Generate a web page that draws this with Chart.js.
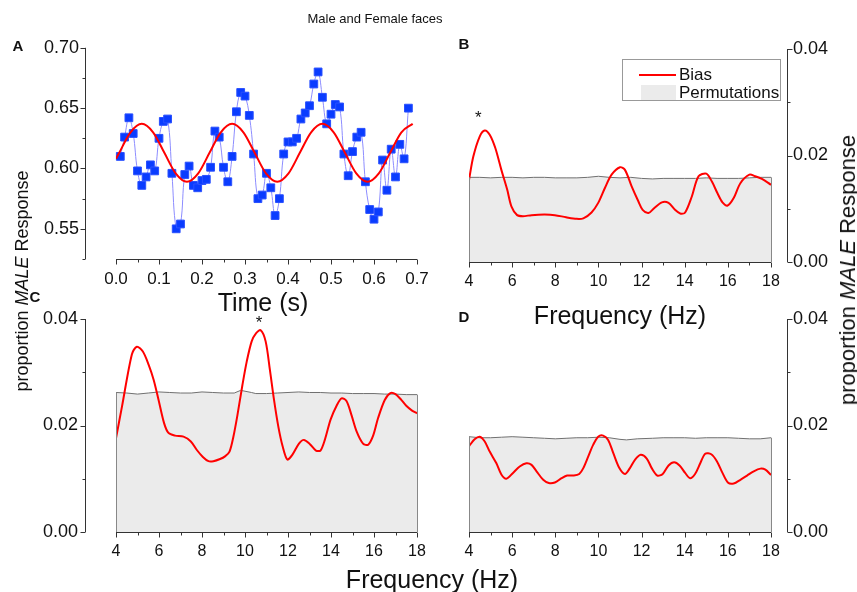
<!DOCTYPE html>
<html>
<head>
<meta charset="utf-8">
<script src="https://cdn.jsdelivr.net/npm/chart.js@4.4.1/dist/chart.umd.min.js"></script>
<style>
  html, body { margin: 0; padding: 0; background: #fff; }
  #wrap { position: relative; width: 857px; height: 592px; overflow: hidden; font-family: "Liberation Sans", Arial, sans-serif; color: #111; }
  canvas { position: absolute; left: 0; top: 0; }
  .t { position: absolute; white-space: nowrap; line-height: 1; }
  .lbl { font-weight: bold; font-size: 15px; transform: translate(-50%, -50%); }
  .ctr { transform: translate(-50%, -50%); }
  .rot { transform: translate(-50%, -50%) rotate(-90deg); }
  #legend { position: absolute; left: 622px; top: 59px; width: 157px; height: 40px; border: 1px solid #999; background: #fff; font-size: 17px; }
</style>
</head>
<body>
<div id="wrap">
  <canvas id="chartA" width="857" height="592"></canvas>
  <canvas id="chartB" width="857" height="592"></canvas>
  <canvas id="chartC" width="857" height="592"></canvas>
  <canvas id="chartD" width="857" height="592"></canvas>

  <div class="t ctr" style="left:375px; top:18px; font-size:13px;">Male and Female faces</div>
  <div class="t lbl" style="left:18px; top:45px;">A</div>
  <div class="t lbl" style="left:464px; top:43px;">B</div>
  <div class="t lbl" style="left:35px; top:296px;">C</div>
  <div class="t lbl" style="left:464px; top:316px;">D</div>

  <div class="t ctr" style="left:263px; top:302px; font-size:25px;">Time (s)</div>
  <div class="t ctr" style="left:620px; top:315px; font-size:25px;">Frequency (Hz)</div>
  <div class="t ctr" style="left:432px; top:579px; font-size:25px;">Frequency (Hz)</div>
  <div class="t rot" style="left:22px; top:281px; font-size:18px;">proportion <i>MALE</i> Response</div>
  <div class="t rot" style="left:848px; top:270px; font-size:22px;">proportion <i>MALE</i> Response</div>

  <div id="legend">
    <div style="position:absolute; left:16px; top:14px; width:37px; height:2px; background:#ff0000;"></div>
    <div class="t" style="left:56px; top:6px;">Bias</div>
    <div style="position:absolute; left:18px; top:25px; width:35px; height:15px; background:#ebebeb;"></div>
    <div class="t" style="left:56px; top:24px;">Permutations</div>
  </div>
</div>

<script>
// ---- Panel A : time course ----
const timeA = [0.01,0.02,0.03,0.04,0.05,0.06,0.07,0.08,0.09,0.10,0.11,0.12,0.13,0.14,0.15,0.16,0.17,
  0.18,0.19,0.20,0.21,0.22,0.23,0.24,0.25,0.26,0.27,0.28,0.29,0.30,0.31,0.32,0.33,0.34,0.35,0.36,
  0.37,0.38,0.39,0.40,0.41,0.42,0.43,0.44,0.45,0.46,0.47,0.48,0.49,0.50,0.51,0.52,0.53,0.54,0.55,
  0.56,0.57,0.58,0.59,0.60,0.61,0.62,0.63,0.64,0.65,0.66,0.67,0.68];
const respA = [0.610,0.626,0.642,0.629,0.598,0.586,0.593,0.603,0.598,0.625,0.639,0.641,0.596,0.550,
  0.554,0.595,0.602,0.586,0.584,0.590,0.591,0.601,0.631,0.626,0.601,0.589,0.610,0.647,0.663,0.660,
  0.644,0.612,0.575,0.578,0.596,0.584,0.561,0.575,0.612,0.622,0.622,0.625,0.641,0.646,0.652,0.670,
  0.680,0.659,0.637,0.645,0.653,0.651,0.612,0.594,0.614,0.626,0.630,0.589,0.566,0.558,0.564,0.607,
  0.582,0.616,0.593,0.620,0.608,0.650];
const fitTimeA = [0.000,0.0075,0.03375,0.060,0.08625,0.1125,0.13875,0.165,0.19125,0.2175,0.24375,
  0.270,0.29625,0.3225,0.34875,0.375,0.40125,0.4275,0.45375,0.480,0.50625,0.5325,0.55875,0.585,
  0.61125,0.6375,0.66375,0.690];
const fitA = [0.608,0.613,0.630,0.637,0.630,0.613,0.596,0.589,0.596,0.613,0.630,0.637,0.630,0.613,
  0.596,0.589,0.596,0.613,0.630,0.637,0.630,0.613,0.596,0.589,0.596,0.613,0.630,0.637];

// ---- Panel B ----
const freqBiasB = [4.0,4.2,4.5,4.73,4.96,5.22,5.5,5.77,5.97,6.23,6.5,6.9,7.5,7.98,8.5,8.99,9.3,9.68,
  9.99,10.3,10.61,11.0,11.23,11.54,11.85,12.05,12.32,12.58,12.94,13.25,13.55,13.79,14.02,14.33,
  14.64,15.0,15.26,15.52,15.75,15.99,16.27,16.58,17.0,17.27,17.58,18.0];
const biasB = [0.0154,0.0198,0.0236,0.0247,0.0239,0.0214,0.0173,0.0136,0.0104,0.0088,0.0086,0.0088,
  0.0089,0.0088,0.0084,0.0081,0.0082,0.0093,0.0111,0.0139,0.0164,0.0178,0.0173,0.0142,0.0114,
  0.0098,0.0092,0.0101,0.0112,0.0111,0.0098,0.0091,0.0093,0.0123,0.0161,0.0166,0.0151,0.0129,
  0.0112,0.0106,0.0120,0.0148,0.0164,0.0161,0.0156,0.0145];
const freqPermB = [4,4.5,5,5.5,6,6.5,7,7.5,8,8.5,9,9.5,10,10.5,11,11.5,12,12.5,13,13.5,14,14.5,15,
  15.5,16,16.5,17,17.5,18];
const permB = [0.0159,0.0159,0.0158,0.0159,0.0159,0.0158,0.0159,0.0159,0.0158,0.0158,0.0158,0.0159,
  0.0161,0.0159,0.0158,0.0159,0.0157,0.0156,0.0157,0.0157,0.0157,0.0157,0.0158,0.0157,0.0157,
  0.0157,0.0158,0.0159,0.0159];

// ---- Panel C ----
const freqBiasC = [4.0,4.28,4.74,4.97,5.25,5.52,5.75,5.98,6.24,6.44,6.75,7.14,7.48,7.76,8.04,8.3,8.53,
  8.84,9.07,9.28,9.46,9.65,9.88,10.08,10.31,10.51,10.73,10.96,11.16,11.35,11.55,11.75,11.97,12.2,
  12.51,12.74,13.02,13.3,13.51,13.72,13.98,14.26,14.49,14.72,14.95,15.19,15.49,15.73,15.96,16.19,
  16.5,16.76,17.0,17.27,17.5,17.77,18.0];
const biasC = [0.0176,0.0236,0.0334,0.0348,0.0339,0.0314,0.0286,0.0248,0.0204,0.0186,0.0181,0.0179,
  0.0170,0.0154,0.0141,0.0133,0.0133,0.0137,0.0142,0.0151,0.0179,0.0220,0.0276,0.0320,0.0358,
  0.0373,0.0379,0.0358,0.0304,0.0248,0.0198,0.0161,0.0136,0.0145,0.0166,0.0173,0.0165,0.0153,
  0.0153,0.0174,0.0211,0.0237,0.0251,0.0246,0.0220,0.0189,0.0166,0.0164,0.0181,0.0214,0.0248,
  0.0261,0.0259,0.0248,0.0237,0.0228,0.0223];
const freqPermC = [4,4.5,5,5.5,6,6.5,7,7.5,8,8.5,9,9.5,9.8,10.3,10.5,11,11.5,12,12.5,13,13.5,14,
  14.5,15,15.5,16,16.5,17,17.5,18];
const permC = [0.0262,0.0261,0.0259,0.0261,0.0263,0.0262,0.0261,0.0261,0.0263,0.0262,0.0261,0.0261,
  0.0266,0.0262,0.0260,0.0260,0.0261,0.0262,0.0263,0.0262,0.0262,0.0261,0.0261,0.0260,0.0260,
  0.0260,0.0259,0.0259,0.0258,0.0258];

// ---- Panel D ----
const freqBiasD = [4.0,4.26,4.5,4.73,4.96,5.27,5.5,5.73,6.04,6.35,6.66,6.9,7.13,7.44,7.7,7.98,8.29,
  8.55,8.86,9.11,9.3,9.53,9.76,9.99,10.22,10.45,10.69,10.97,11.23,11.46,11.7,11.96,12.24,12.47,
  12.73,12.98,13.25,13.51,13.76,14.02,14.25,14.48,14.72,14.95,15.23,15.49,15.75,16.0,16.27,16.58,
  16.89,17.2,17.51,17.74,18.0];
const biasD = [0.0161,0.0174,0.0179,0.0170,0.0151,0.0129,0.0108,0.0100,0.0111,0.0123,0.0129,0.0126,
  0.0114,0.0098,0.0092,0.0093,0.0101,0.0106,0.0106,0.0109,0.0120,0.0142,0.0164,0.0179,0.0181,
  0.0173,0.0148,0.0120,0.0109,0.0120,0.0136,0.0145,0.0138,0.0120,0.0106,0.0109,0.0125,0.0131,
  0.0125,0.0111,0.0101,0.0109,0.0129,0.0147,0.0146,0.0133,0.0111,0.0093,0.0091,0.0098,0.0106,
  0.0114,0.0119,0.0117,0.0107];
const freqPermD = [4,4.5,5,5.5,6,6.5,7,7.5,8,8.5,9,9.5,10,10.5,11,11.3,11.8,12.5,13,13.5,14,14.5,
  15,15.5,16,16.5,17,17.5,18];
const permD = [0.0179,0.0177,0.0177,0.0178,0.0179,0.0178,0.0177,0.0176,0.0175,0.0176,0.0177,0.0177,
  0.0178,0.0177,0.0174,0.0173,0.0175,0.0176,0.0177,0.0177,0.0177,0.0176,0.0177,0.0177,0.0177,
  0.0176,0.0175,0.0175,0.0177];

const W = 857, H = 592, XH = 40;
const FONT = "'Liberation Sans', Arial, sans-serif";

function pts(xs, ys) {
  return xs.map((x, i) => ({ x: x, y: ys[i] }));
}

// draws Origin-style detached axes with major + minor ticks
const axesPlugin = {
  id: 'axesDraw',
  afterDatasetsDraw(chart, args, o) {
    const { ctx, chartArea: a } = chart;
    const xs = chart.scales.x, ys = chart.scales.y;
    ctx.save();
    ctx.strokeStyle = '#333';
    ctx.lineWidth = 1;
    const seg = (x1, y1, x2, y2) => { ctx.beginPath(); ctx.moveTo(x1, y1); ctx.lineTo(x2, y2); ctx.stroke(); };
    const isMajor = (scale, v) => scale.ticks.some(t => Math.abs(t.value - v) < 1e-7);

    // x axis
    const by = Math.round(a.bottom) + 0.5;
    seg(xs.getPixelForValue(xs.min), by, xs.getPixelForValue(xs.max), by);
    let n = Math.round((xs.max - xs.min) / o.xHalf);
    for (let i = 0; i <= n; i++) {
      const v = xs.min + i * o.xHalf;
      const px = Math.round(xs.getPixelForValue(v)) + 0.5;
      seg(px, by, px, by + (isMajor(xs, v) ? 5 : 3));
    }

    // y axis
    const ax = Math.round(o.side === 'left' ? a.left + o.yOffset : a.right + o.yOffset) + 0.5;
    const dir = o.side === 'left' ? -1 : 1;
    seg(ax, ys.getPixelForValue(ys.min), ax, ys.getPixelForValue(ys.max));
    n = Math.round((ys.max - ys.min) / o.yHalf);
    for (let i = 0; i <= n; i++) {
      const v = ys.min + i * o.yHalf;
      const py = Math.round(ys.getPixelForValue(v)) + 0.5;
      seg(ax, py, ax + dir * (isMajor(ys, v) ? 5 : 3), py);
    }

    // vertical edges of the permutation area
    if (o.edges !== undefined) {
      const d = chart.data.datasets[o.edges].data;
      ctx.strokeStyle = '#888';
      [d[0], d[d.length - 1]].forEach(p => {
        const px = Math.round(xs.getPixelForValue(p.x)) + 0.5;
        seg(px, ys.getPixelForValue(0), px, ys.getPixelForValue(p.y));
      });
    }

    // significance stars
    if (o.star) {
      ctx.fillStyle = '#111';
      ctx.font = '17px ' + FONT;
      ctx.textAlign = 'center';
      ctx.textBaseline = 'middle';
      ctx.fillText('*', xs.getPixelForValue(o.star[0]), ys.getPixelForValue(o.star[1]));
    }
    ctx.restore();
  }
};

function makeChart(id, area, side, datasets, xOpt, yOpt, extra) {
  const YW = side === 'left' ? 100 : 80;
  const pad = {
    top: area.t,
    bottom: H - area.b - XH,
    left: side === 'left' ? area.l - YW : area.l,
    right: side === 'right' ? W - area.r - YW : W - area.r
  };
  return new Chart(document.getElementById(id), {
    type: 'line',
    data: { datasets: datasets },
    plugins: [axesPlugin],
    options: {
      responsive: false,
      animation: false,
      events: [],
      layout: { padding: pad },
      plugins: {
        legend: { display: false },
        tooltip: { enabled: false },
        axesDraw: Object.assign({ side: side }, extra)
      },
      scales: {
        x: Object.assign({
          type: 'linear',
          grid: { display: false, drawTicks: false },
          border: { display: false },
          afterFit: s => { s.height = XH; }
        }, xOpt),
        y: Object.assign({
          type: 'linear',
          position: side,
          grid: { display: false, drawTicks: false },
          border: { display: false },
          afterFit: s => { s.width = YW; }
        }, yOpt)
      }
    }
  });
}

const xTickFont = { family: FONT, size: 16 };
const yTickFont = { family: FONT, size: 18 };

function freqX() {
  return { min: 4, max: 18, ticks: { stepSize: 2, font: xTickFont, color: '#111', padding: 10, maxRotation: 0 } };
}
function propY(padding) {
  return { min: 0, max: 0.04, ticks: { stepSize: 0.02, font: yTickFont, color: '#111', padding: padding,
    callback: v => v.toFixed(2) } };
}
function specSets(fx, fy, bx, by) {
  return [
    { data: pts(bx, by), borderColor: '#ff0000', borderWidth: 2, pointRadius: 0, tension: 0.3, fill: false, order: 0 },
    { data: pts(fx, fy), borderColor: '#707070', borderWidth: 1, pointRadius: 0, tension: 0, fill: 'origin',
      backgroundColor: '#ebebeb', order: 1 }
  ];
}

// Panel A
makeChart('chartA', { l: 116, r: 417, t: 46, b: 259 }, 'left', [
  { data: pts(fitTimeA, fitA), borderColor: '#ff0000', borderWidth: 2, pointRadius: 0,
    cubicInterpolationMode: 'monotone', fill: false, order: 0 },
  { data: pts(timeA, respA), borderColor: '#8c8cff', borderWidth: 1, tension: 0.4, fill: false,
    pointStyle: 'rect', pointRadius: 5.5, pointBackgroundColor: '#0a3cff', pointBorderColor: '#2a50ff',
    pointBorderWidth: 1, clip: false, order: 1 }
], {
  min: 0, max: 0.7,
  ticks: { stepSize: 0.1, font: { family: FONT, size: 17 }, color: '#111', padding: 10, maxRotation: 0,
    callback: v => v.toFixed(1) }
}, {
  min: 0.525, max: 0.70,
  ticks: { stepSize: 0.05, font: yTickFont, color: '#111', padding: 37, callback: v => v.toFixed(2) },
  afterBuildTicks: s => { s.ticks = s.ticks.filter(t => t.value > 0.54); }
}, { xHalf: 0.05, yHalf: 0.025, yOffset: -31 });

// Panel B
makeChart('chartB', { l: 469, r: 771, t: 49, b: 262 }, 'right',
  specSets(freqPermB, permB, freqBiasB, biasB), freqX(), propY(22),
  { xHalf: 1, yHalf: 0.01, yOffset: 16, edges: 1, star: [4.43, 0.0270] });

// Panel C
makeChart('chartC', { l: 116, r: 417, t: 319, b: 532 }, 'left',
  specSets(freqPermC, permC, freqBiasC, biasC), freqX(), propY(38),
  { xHalf: 1, yHalf: 0.01, yOffset: -31, edges: 1, star: [10.65, 0.0392] });

// Panel D
makeChart('chartD', { l: 469, r: 771, t: 319, b: 532 }, 'right',
  specSets(freqPermD, permD, freqBiasD, biasD), freqX(), propY(22),
  { xHalf: 1, yHalf: 0.01, yOffset: 16, edges: 1 });
</script>
</body>
</html>
